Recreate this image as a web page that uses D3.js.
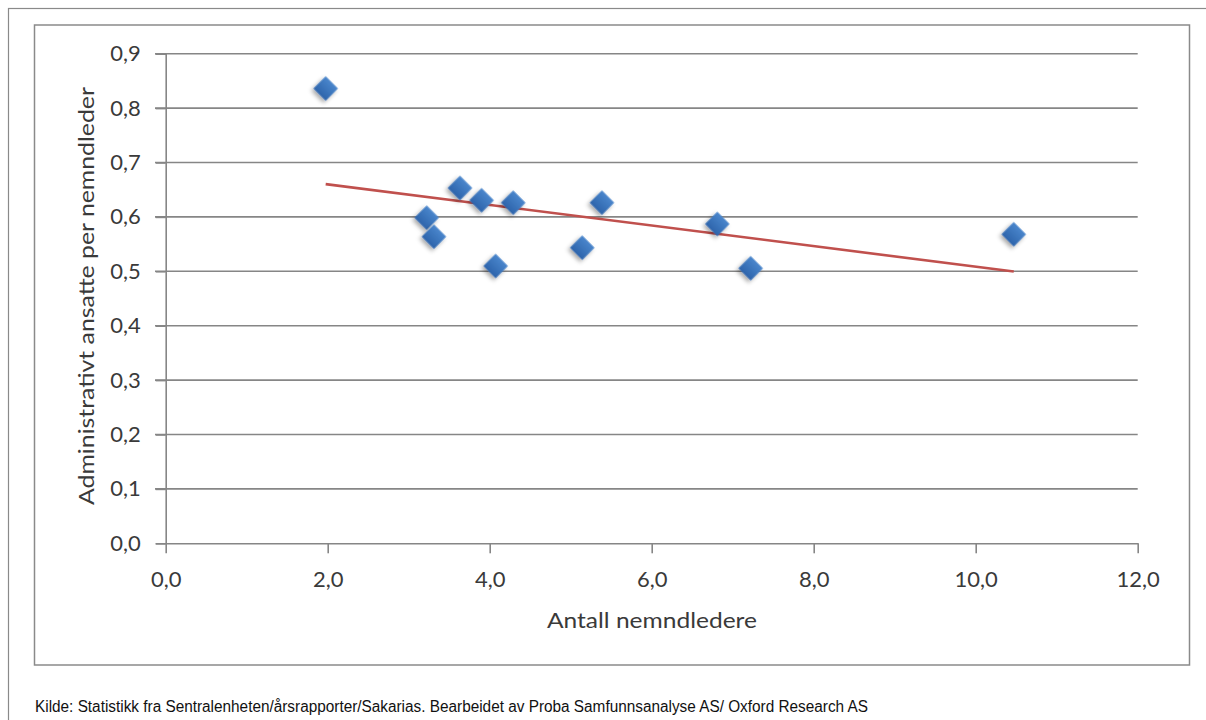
<!DOCTYPE html>
<html>
<head>
<meta charset="utf-8">
<script src="https://cdn.jsdelivr.net/npm/d3@7"></script>
<style>
  html, body { margin: 0; padding: 0; background: #fff; }
  svg { display: block; }
</style>
</head>
<body>
<svg id="chart" width="1206" height="720"></svg>
<script>
// Antall nemndledere (x) against administrative staff per leader (y)
const nemndledere = [1.975, 3.222, 3.312, 3.633, 3.90, 4.074, 4.291, 5.143, 5.386, 6.81, 7.222, 10.47];
const adminPerLeder = [0.836, 0.5985, 0.5636, 0.6531, 0.6305, 0.5097, 0.6261, 0.5434, 0.6261, 0.587, 0.5055, 0.568];

const xTicks = [0, 2, 4, 6, 8, 10, 12];
const yTicks = [0, 0.1, 0.2, 0.3, 0.4, 0.5, 0.6, 0.7, 0.8, 0.9];

const xTitle = "Antall nemndledere";
const yTitle = "Administrativt ansatte per nemndleder";
const sourceNote = "Kilde: Statistikk fra Sentralenheten/årsrapporter/Sakarias. Bearbeidet av Proba Samfunnsanalyse AS/ Oxford Research AS";

const points = nemndledere.map((x, i) => ({ x, y: adminPerLeder[i] }));

const svg = d3.select("#chart");
const fmt = v => d3.format(".1f")(v).replace(".", ",");
const labelFont = "Lato, 'Open Sans', sans-serif";
const axisGrey = "#868686";
const textGrey = "#3a3a3a";

// outer frame and chart frame
svg.append("rect").attr("x", 8.5).attr("y", 8.5).attr("width", 1210).attr("height", 730)
  .attr("fill", "none").attr("stroke", "#8a8a8a").attr("stroke-width", 1.2);
svg.append("rect").attr("x", 34.5).attr("y", 25).attr("width", 1155).attr("height", 640)
  .attr("fill", "#fff").attr("stroke", "#8a8a8a").attr("stroke-width", 1.5);

const x = d3.scaleLinear().domain([0, 12]).range([165.7, 1137.7]);
const y = d3.scaleLinear().domain([0, 0.9]).range([543.3, 53.7]);

// defs: marker gradient and soft shadow
const defs = svg.append("defs");
const grad = defs.append("linearGradient").attr("id", "mk").attr("x1", 0).attr("y1", 0).attr("x2", 0).attr("y2", 1);
grad.append("stop").attr("offset", "0%").attr("stop-color", "#4a86cc");
grad.append("stop").attr("offset", "100%").attr("stop-color", "#2d64ab");
const sh = defs.append("filter").attr("id", "sh").attr("x", "-50%").attr("y", "-50%").attr("width", "200%").attr("height", "200%");
sh.append("feDropShadow").attr("dx", 0).attr("dy", 3).attr("stdDeviation", 2)
  .attr("flood-color", "#000").attr("flood-opacity", 0.35);

// horizontal gridlines (with tick stubs)
svg.append("g").selectAll("line").data(yTicks.filter(d => d > 0)).join("line")
  .attr("x1", 155).attr("x2", x(12))
  .attr("y1", d => y(d)).attr("y2", d => y(d))
  .attr("stroke", axisGrey).attr("stroke-width", 1.6);

// y axis
const yAxis = svg.append("g").attr("transform", `translate(${x(0)},0)`)
  .call(d3.axisLeft(y).tickValues(yTicks).tickFormat(fmt).tickSize(10).tickPadding(15));
yAxis.select(".domain").attr("stroke", axisGrey).attr("stroke-width", 1.6);
yAxis.selectAll(".tick line").attr("stroke", axisGrey).attr("stroke-width", 1.6);
yAxis.selectAll(".tick text").attr("font-family", labelFont).attr("font-size", 22)
  .attr("fill", textGrey);

// x axis
const xAxis = svg.append("g").attr("transform", `translate(0,${y(0)})`)
  .call(d3.axisBottom(x).tickValues(xTicks).tickFormat(fmt).tickSize(10).tickPadding(18).tickSizeOuter(0));
xAxis.select(".domain").attr("stroke", axisGrey).attr("stroke-width", 1.6);
xAxis.selectAll(".tick line").attr("stroke", axisGrey).attr("stroke-width", 1.6);
xAxis.selectAll(".tick text").attr("font-family", labelFont).attr("font-size", 22)
  .attr("fill", textGrey);

// linear trendline (least squares) over the data range
const mx = d3.mean(points, d => d.x), my = d3.mean(points, d => d.y);
const slope = d3.sum(points, d => (d.x - mx) * (d.y - my)) / d3.sum(points, d => (d.x - mx) ** 2);
const icpt = my - slope * mx;
const [xmin, xmax] = d3.extent(points, d => d.x);
svg.append("path")
  .datum([xmin, xmax])
  .attr("d", d3.line().x(d => x(d)).y(d => y(icpt + slope * d)))
  .attr("stroke", "#c0504d").attr("stroke-width", 2.6).attr("fill", "none");

// diamond markers
const diamond = d3.symbol().type(d3.symbolSquare).size(300);
svg.append("g").selectAll("path").data(points).join("path")
  .attr("d", diamond)
  .attr("transform", d => `translate(${x(d.x)},${y(d.y)}) rotate(45)`)
  .attr("fill", "url(#mk)")
  .attr("filter", "url(#sh)");

// axis titles
svg.append("text").attr("x", 547).attr("y", 628)
  .attr("font-family", labelFont).attr("font-size", 22).attr("fill", textGrey)
  .attr("textLength", 210).attr("lengthAdjust", "spacingAndGlyphs").text(xTitle);
svg.append("text").attr("transform", "translate(94,505) rotate(-90)")
  .attr("font-family", labelFont).attr("font-size", 22).attr("fill", textGrey)
  .attr("textLength", 418).attr("lengthAdjust", "spacingAndGlyphs").text(yTitle);

// source note
svg.append("text").attr("x", 35).attr("y", 712)
  .attr("font-family", "'Liberation Sans Narrow', 'Arial Narrow', 'Liberation Sans', sans-serif")
  .attr("font-size", 16).attr("fill", "#111")
  .attr("textLength", 833).attr("lengthAdjust", "spacingAndGlyphs")
  .text(sourceNote);
</script>
</body>
</html>
